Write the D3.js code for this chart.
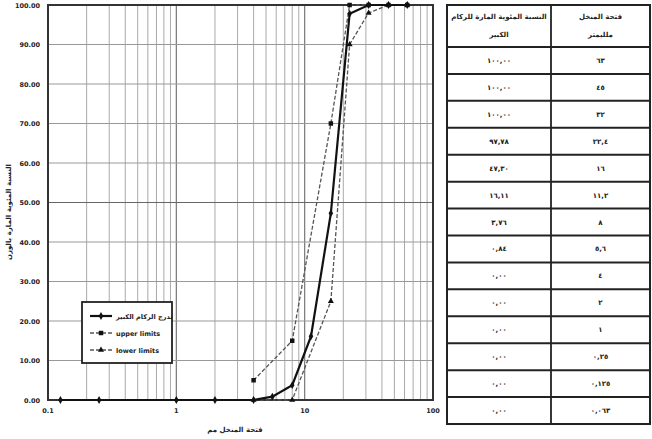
<!DOCTYPE html>
<html>
<head>
<meta charset="utf-8">
<script src="https://cdn.jsdelivr.net/npm/d3@7"></script>
<style>
  body { margin: 0; background: #fff; }
  svg text { font-family: "DejaVu Sans", "Liberation Sans", sans-serif; fill: #222; }
</style>
</head>
<body>
<svg id="chart" width="652" height="439"></svg>
<script>
// sieve sizes (mm) and percent passing
var sieves = [0.125, 0.25, 1, 2, 4, 5.6, 8, 11.2, 16, 22.4, 31.5, 45, 63];
var passing = [0, 0, 0, 0, 0, 0.84, 3.76, 16.11, 47.30, 97.78, 100, 100, 100];

var upperSieves = [4, 8, 16, 22.4, 31.5, 45, 63];
var upperValues = [5, 15, 70, 100, 100, 100, 100];

var lowerSieves = [4, 8, 16, 22.4, 31.5, 45, 63];
var lowerValues = [0, 0, 25, 90, 98, 100, 100];

var yTicks = [0, 10, 20, 30, 40, 50, 60, 70, 80, 90, 100];
var xTicks = [0.1, 1, 10, 100];

var seriesNames = ["تدرج الركام الكبير", "upper limits", "lower limits"];

// table
var tableHeadRight = ["فتحة المنخل", "ملليمتر"];
var tableHeadLeft = ["النسبة المئوية المارة للركام", "الكبير"];
var tableSieves = ["٦٣", "٤٥", "٣٢", "٢٢,٤", "١٦", "١١,٢", "٨", "٥,٦", "٤", "٢", "١", "٠,٢٥", "٠,١٢٥", "٠,٠٦٣"];
var tablePassing = ["١٠٠,٠٠", "١٠٠,٠٠", "١٠٠,٠٠", "٩٧,٧٨", "٤٧,٣٠", "١٦,١١", "٣,٧٦", "٠,٨٤", "٠,٠٠", "٠,٠٠", "٠,٠٠", "٠,٠٠", "٠,٠٠", "٠,٠٠"];

var svg = d3.select("#chart");

var plot = {left: 48, right: 433, top: 5, bottom: 400};

var x = d3.scaleLog().domain([0.1, 100]).range([plot.left, plot.right]);
var y = d3.scaleLinear().domain([0, 100]).range([plot.bottom, plot.top]);

var grid = svg.append("g");

// minor vertical grid
var minor = [];
[0.1, 1, 10].forEach(function(d) {
	for (var k = 2; k <= 9; k++) minor.push(d * k);
});
grid.selectAll("line.minor").data(minor).enter().append("line")
	.attr("x1", function(d) { return x(d); }).attr("x2", function(d) { return x(d); })
	.attr("y1", plot.top).attr("y2", plot.bottom)
	.attr("stroke", "#aaa").attr("stroke-width", 1);

grid.selectAll("line.major").data(xTicks).enter().append("line")
	.attr("x1", function(d) { return x(d); }).attr("x2", function(d) { return x(d); })
	.attr("y1", plot.top).attr("y2", plot.bottom)
	.attr("stroke", "#777").attr("stroke-width", 1.2);

grid.selectAll("line.h").data(yTicks).enter().append("line")
	.attr("x1", plot.left).attr("x2", plot.right)
	.attr("y1", function(d) { return y(d); }).attr("y2", function(d) { return y(d); })
	.attr("stroke", function(d) { return d === 50 ? "#666" : "#999"; })
	.attr("stroke-width", 1.2);

// frame
svg.append("rect")
	.attr("x", plot.left).attr("y", plot.top)
	.attr("width", plot.right - plot.left).attr("height", plot.bottom - plot.top)
	.attr("fill", "none").attr("stroke", "#333").attr("stroke-width", 2);

// axes labels
svg.append("g").selectAll("text").data(yTicks).enter().append("text")
	.attr("x", 40).attr("y", function(d) { return y(d) + 2.5; })
	.attr("text-anchor", "end").attr("font-size", 6.5).attr("font-weight", "bold")
	.text(function(d) { return d.toFixed(2); });

svg.append("g").selectAll("text").data(xTicks).enter().append("text")
	.attr("x", function(d) { return x(d); }).attr("y", 413)
	.attr("text-anchor", "middle").attr("font-size", 6.5).attr("font-weight", "bold")
	.text(function(d) { return d; });

svg.append("text")
	.attr("x", 235).attr("y", 432)
	.attr("text-anchor", "middle").attr("font-size", 7).attr("font-weight", "bold")
	.text("فتحة المنخل مم");

svg.append("text")
	.attr("transform", "translate(11,212) rotate(-90)")
	.attr("text-anchor", "middle").attr("font-size", 7).attr("font-weight", "bold")
	.text("النسبة المئوية المارة بالوزن");

// series
var line = d3.line()
	.x(function(d) { return x(d[0]); })
	.y(function(d) { return y(d[1]); });

var symDiamond = d3.symbol().type(d3.symbolDiamond).size(18);
var symSquare = d3.symbol().type(d3.symbolSquare).size(20);
var symTriangle = d3.symbol().type(d3.symbolTriangle).size(16);

function drawSeries(xs, ys, opts) {
	var pts = xs.map(function(d, i) { return [d, ys[i]]; });
	var g = svg.append("g");
	g.append("path").datum(pts)
		.attr("d", line)
		.attr("fill", "none")
		.attr("stroke", opts.color)
		.attr("stroke-width", opts.width)
		.attr("stroke-dasharray", opts.dash);
	g.selectAll("path.m").data(pts).enter().append("path")
		.attr("transform", function(d) { return "translate(" + x(d[0]) + "," + y(d[1]) + ")"; })
		.attr("d", opts.symbol)
		.attr("fill", "#111");
}

drawSeries(lowerSieves, lowerValues, {color: "#555", width: 1.3, dash: "4,2", symbol: symTriangle});
drawSeries(upperSieves, upperValues, {color: "#555", width: 1.3, dash: "4,2", symbol: symSquare});
drawSeries(sieves, passing, {color: "#111", width: 2.2, dash: null, symbol: symDiamond});

// legend
var legend = svg.append("g").attr("transform", "translate(82,302)");
legend.append("rect")
	.attr("width", 90).attr("height", 61)
	.attr("fill", "#fff").attr("stroke", "#222").attr("stroke-width", 1.8);

var legendItems = [
	{name: seriesNames[0], dash: null, width: 2.2, color: "#111", symbol: symDiamond},
	{name: seriesNames[1], dash: "4,2", width: 1.3, color: "#555", symbol: symSquare},
	{name: seriesNames[2], dash: "4,2", width: 1.3, color: "#555", symbol: symTriangle}
];
legendItems.forEach(function(item, i) {
	var ly = 14 + i * 17;
	legend.append("line")
		.attr("x1", 8).attr("x2", 30).attr("y1", ly).attr("y2", ly)
		.attr("stroke", item.color).attr("stroke-width", item.width)
		.attr("stroke-dasharray", item.dash);
	legend.append("path")
		.attr("transform", "translate(19," + ly + ")")
		.attr("d", item.symbol).attr("fill", "#111");
	legend.append("text")
		.attr("x", 34).attr("y", ly + 2.5)
		.attr("font-size", 6.5).attr("font-weight", "bold")
		.text(item.name);
});

// table
var tbl = {left: 447, mid: 551, right: 650, top: 5, head: 47, row: 26.93};
var t = svg.append("g");
var rowLines = d3.range(tablePassing.length + 1).map(function(i) { return tbl.head + i * tbl.row; });

t.append("rect")
	.attr("x", tbl.left).attr("y", tbl.top)
	.attr("width", tbl.right - tbl.left).attr("height", rowLines[rowLines.length - 1] - tbl.top)
	.attr("fill", "#fff").attr("stroke", "#222").attr("stroke-width", 2);

t.selectAll("line.r").data(rowLines).enter().append("line")
	.attr("x1", tbl.left).attr("x2", tbl.right)
	.attr("y1", function(d) { return d; }).attr("y2", function(d) { return d; })
	.attr("stroke", "#222").attr("stroke-width", 2);

t.append("line")
	.attr("x1", tbl.mid).attr("x2", tbl.mid)
	.attr("y1", tbl.top).attr("y2", rowLines[rowLines.length - 1])
	.attr("stroke", "#222").attr("stroke-width", 1.8);

var cL = (tbl.left + tbl.mid) / 2, cR = (tbl.mid + tbl.right) / 2;

tableHeadLeft.forEach(function(s, i) {
	t.append("text").attr("x", cL).attr("y", 19 + i * 18)
		.attr("text-anchor", "middle").attr("font-size", 7).attr("font-weight", "bold").text(s);
});
tableHeadRight.forEach(function(s, i) {
	t.append("text").attr("x", cR).attr("y", 19 + i * 18)
		.attr("text-anchor", "middle").attr("font-size", 7).attr("font-weight", "bold").text(s);
});

t.selectAll("text.p").data(tablePassing).enter().append("text")
	.attr("x", cL).attr("y", function(d, i) { return tbl.head + i * tbl.row + tbl.row / 2 + 2.5; })
	.attr("text-anchor", "middle").attr("font-size", 7).attr("font-weight", "bold")
	.text(function(d) { return d; });

t.selectAll("text.s").data(tableSieves).enter().append("text")
	.attr("x", cR).attr("y", function(d, i) { return tbl.head + i * tbl.row + tbl.row / 2 + 2.5; })
	.attr("text-anchor", "middle").attr("font-size", 7).attr("font-weight", "bold")
	.text(function(d) { return d; });
</script>
</body>
</html>
